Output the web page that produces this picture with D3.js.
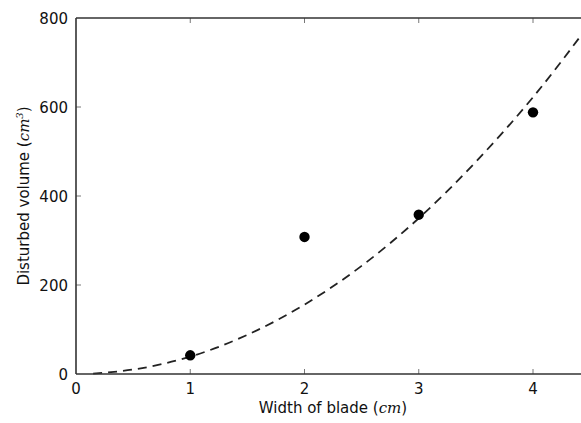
<!DOCTYPE html>
<html>
<head>
<meta charset="utf-8">
<script src="https://cdn.jsdelivr.net/npm/d3@7"></script>
<style>
  body { margin: 0; background: #fff; }
  svg { display: block; font-family: "DejaVu Sans", sans-serif; }
  .math { font-family: "DejaVu Serif", serif; font-style: italic; }
</style>
</head>
<body>
<div id="chart"></div>
<script>
// measured points
var widths = [1, 2, 3, 4]
var volumes = [42, 308, 358, 588]

// dashed fit curve
var fitX = [0.15, 0.5, 1, 1.5, 2, 2.5, 3, 3.5, 4, 4.5]
var fitY = [1, 10, 39, 88, 156, 243, 350, 477, 622, 788]

var xTicks = [0, 1, 2, 3, 4]
var yTicks = [0, 200, 400, 600, 800]

var W = 581, H = 423
var plotLeft = 76, plotTop = 18, plotBottom = 374

var svg = d3.select('#chart').append('svg')
    .attr('width', W)
    .attr('height', H)

// x: 0 -> 76px, 4 -> 533px
var x = d3.scaleLinear().domain([0, 4]).range([plotLeft, 533])
var y = d3.scaleLinear().domain([0, 800]).range([plotBottom, plotTop])

var plot = svg.append('g')

// fit curve
var fit = fitX.map(function(v, i) { return [v, fitY[i]] })
plot.append('path')
    .datum(fit)
    .attr('fill', 'none')
    .attr('stroke', '#222')
    .attr('stroke-width', 1.8)
    .attr('stroke-dasharray', '9,6')
    .attr('d', d3.line()
        .curve(d3.curveMonotoneX)
        .x(function(d) { return x(d[0]) })
        .y(function(d) { return y(d[1]) }))

// points
plot.selectAll('circle')
    .data(widths)
    .enter().append('circle')
    .attr('cx', function(d) { return x(d) })
    .attr('cy', function(d, i) { return y(volumes[i]) })
    .attr('r', 5.2)
    .attr('fill', '#000')

// ticks (inward, classic style)
var tickCol = '#777'
xTicks.slice(1).forEach(function(t) {
    svg.append('line').attr('x1', x(t)).attr('x2', x(t))
        .attr('y1', plotBottom).attr('y2', plotBottom - 5)
        .attr('stroke', tickCol).attr('stroke-width', 1)
    svg.append('line').attr('x1', x(t)).attr('x2', x(t))
        .attr('y1', plotTop).attr('y2', plotTop + 5)
        .attr('stroke', tickCol).attr('stroke-width', 1)
})
yTicks.slice(1, -1).forEach(function(t) {
    svg.append('line').attr('x1', plotLeft).attr('x2', plotLeft + 5)
        .attr('y1', y(t)).attr('y2', y(t))
        .attr('stroke', tickCol).attr('stroke-width', 1)
})

// spines
svg.append('line').attr('x1', plotLeft).attr('x2', W)
    .attr('y1', plotBottom).attr('y2', plotBottom)
    .attr('stroke', '#333').attr('stroke-width', 1.6)
svg.append('line').attr('x1', plotLeft).attr('x2', W)
    .attr('y1', plotTop).attr('y2', plotTop)
    .attr('stroke', '#333').attr('stroke-width', 1.6)
svg.append('line').attr('x1', plotLeft).attr('x2', plotLeft)
    .attr('y1', plotTop).attr('y2', plotBottom)
    .attr('stroke', '#333').attr('stroke-width', 1.6)

// tick labels
svg.selectAll('.xl')
    .data(xTicks)
    .enter().append('text')
    .attr('x', function(d) { return x(d) })
    .attr('y', 394)
    .attr('text-anchor', 'middle')
    .attr('font-size', '15px')
    .attr('fill', '#111')
    .text(function(d) { return d })

svg.selectAll('.yl')
    .data(yTicks)
    .enter().append('text')
    .attr('x', 68)
    .attr('y', function(d) { return y(d) + 5.5 })
    .attr('text-anchor', 'end')
    .attr('font-size', '15px')
    .attr('fill', '#111')
    .text(function(d) { return d })

// axis titles
var xt = svg.append('text')
    .attr('x', 333)
    .attr('y', 413)
    .attr('text-anchor', 'middle')
    .attr('font-size', '15px')
    .attr('fill', '#111')
xt.append('tspan').text('Width of blade (')
xt.append('tspan').attr('class', 'math').text('cm')
xt.append('tspan').text(')')

var yt = svg.append('text')
    .attr('transform', 'translate(29,' + ((plotTop + plotBottom) / 2) + ') rotate(-90)')
    .attr('text-anchor', 'middle')
    .attr('font-size', '15px')
    .attr('fill', '#111')
yt.append('tspan').text('Disturbed volume (')
yt.append('tspan').attr('class', 'math').text('cm')
yt.append('tspan').attr('class', 'math').attr('font-size', '10px').attr('dy', -6).text('3')
yt.append('tspan').attr('dy', 6).text(')')
</script>
</body>
</html>
